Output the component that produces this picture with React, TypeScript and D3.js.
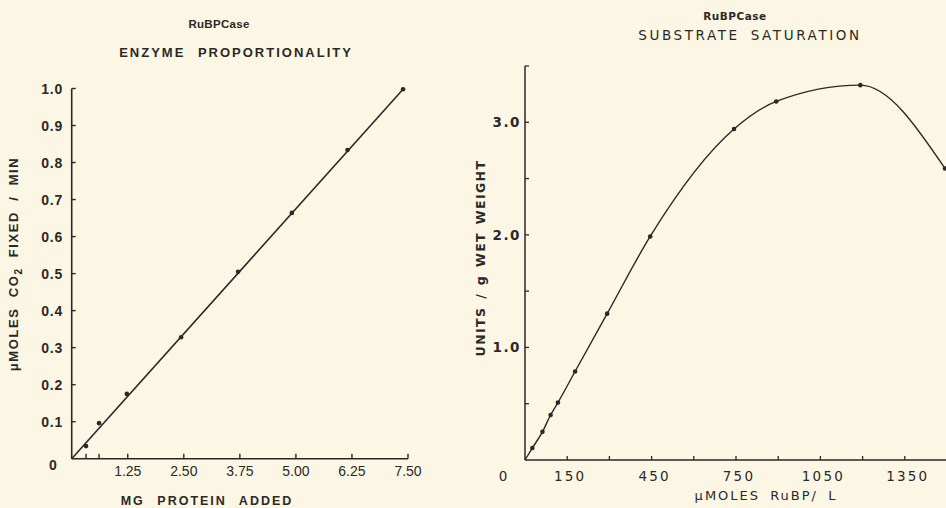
import React from "react";
import * as d3 from "d3";

// Left panel: enzyme proportionality
const proteinMg = [0.32, 0.61, 1.23, 2.44, 3.71, 4.91, 6.15, 7.39];
const co2Fixed = [0.034, 0.096, 0.175, 0.328, 0.505, 0.664, 0.834, 0.998];
const fitX = [0, 7.39];
const fitY = [0, 0.998];
const leftXTicks = [0.32, 0.61, 1.25, 2.5, 3.75, 5, 6.25, 7.5];
const leftXLabels = ["1.25", "2.50", "3.75", "5.00", "6.25", "7.50"];
const leftXLabelVals = [1.25, 2.5, 3.75, 5, 6.25, 7.5];
const leftYTicks = [0.1, 0.2, 0.3, 0.4, 0.5, 0.6, 0.7, 0.8, 0.9, 1.0];

// Right panel: substrate saturation
const rubp = [26, 62, 91, 117, 178, 292, 445, 743, 893, 1192, 1493];
const units = [0.106, 0.25, 0.4, 0.51, 0.786, 1.3, 1.986, 2.94, 3.185, 3.33, 2.59];
const rightXTicks = [150, 300, 450, 600, 750, 900, 1050, 1200, 1350, 1500];
const rightXLabelVals = [150, 450, 750, 1050, 1350];
const rightYTicks = [0.5, 1.0, 1.5, 2.0, 2.5, 3.0, 3.5];
const rightYLabelVals = [1.0, 2.0, 3.0];

const BG = "#fcf7e5";
const INK = "#2b2926";

export default function App() {
  const lx = d3.scaleLinear().domain([0, 7.5]).range([71.7, 408]);
  const ly = d3.scaleLinear().domain([0, 1]).range([458.7, 88.5]);
  const rx = d3.scaleLinear().domain([0, 1500]).range([525, 947]);
  const ry = d3.scaleLinear().domain([0, 3.5]).range([460, 66]);

  const fitLine = d3
    .line<number>()
    .x((_, i) => lx(fitX[i]))
    .y((_, i) => ly(fitY[i]))(fitX);

  const curvePts: [number, number][] = [[0, 0], ...rubp.map((v, i) => [v, units[i]] as [number, number])];
  const satCurve = d3
    .line<[number, number]>()
    .x((d) => rx(d[0]))
    .y((d) => ry(d[1]))
    .curve(d3.curveMonotoneX)(curvePts);

  const boldFont = "'Liberation Sans', Arial, sans-serif";
  const lightFont = "'DejaVu Sans', 'Liberation Sans', sans-serif";

  return (
    <svg
      width={946}
      height={508}
      style={{ position: "fixed", left: 0, top: 0, background: BG }}
    >
      <rect x={0} y={0} width={946} height={508} fill={BG} />
      {/* LEFT PANEL */}
      <g fill={INK} fontFamily={boldFont} fontWeight="bold">
        <text x={219} y={27.5} fontSize={11.5} textAnchor="middle" fontWeight="bold" letterSpacing={0.3}>RuBPCase</text>
        <text x={236} y={56.5} fontSize={13} textAnchor="middle" letterSpacing={2} style={{ wordSpacing: "7px" }}>
          ENZYME PROPORTIONALITY
        </text>
        {/* axes */}
        <line x1={lx(0)} y1={ly(0)} x2={lx(0)} y2={ly(1)} stroke={INK} strokeWidth={1.6} />
        <line x1={lx(0)} y1={ly(0)} x2={lx(7.5)} y2={ly(0)} stroke={INK} strokeWidth={1.6} />
        {leftYTicks.map((t) => (
          <line key={"lyt" + t} x1={lx(0)} x2={lx(0) + 4} y1={ly(t)} y2={ly(t)} stroke={INK} strokeWidth={1.4} />
        ))}
        {leftYTicks.map((t) => (
          <text key={"lyl" + t} x={63} y={ly(t) + 5} fontSize={14} textAnchor="end" letterSpacing={0.8}>
            {t.toFixed(1)}
          </text>
        ))}
        <text x={53} y={470} fontSize={14} textAnchor="middle">0</text>
        {leftXTicks.map((t) => (
          <line key={"lxt" + t} x1={lx(t)} x2={lx(t)} y1={ly(0)} y2={ly(0) - 5} stroke={INK} strokeWidth={1.4} />
        ))}
        {leftXLabelVals.map((t, i) => (
          <text key={"lxl" + t} x={lx(t)} y={476} fontSize={14} textAnchor="middle" fontWeight="normal" letterSpacing={0}>
            {leftXLabels[i]}
          </text>
        ))}
        <text x={207} y={505} fontSize={12.5} textAnchor="middle" letterSpacing={2} style={{ wordSpacing: "7px" }}>
          MG PROTEIN ADDED
        </text>
        <text
          transform={`translate(18, 264) rotate(-90)`}
          fontSize={13}
          textAnchor="middle"
          letterSpacing={1.6}
          style={{ wordSpacing: "5px" }}
        >
          μMOLES CO<tspan fontSize={10} dy={4}>2</tspan><tspan dy={-4}> FIXED / MIN</tspan>
        </text>
        {/* data */}
        <path d={fitLine ?? ""} fill="none" stroke={INK} strokeWidth={1.6} />
        {proteinMg.map((v, i) => (
          <circle key={"lp" + i} cx={lx(v)} cy={ly(co2Fixed[i])} r={2.3} fill={INK} />
        ))}
      </g>

      {/* RIGHT PANEL */}
      <g fill={INK} fontFamily={lightFont}>
        <text x={735} y={19.5} fontSize={10.5} textAnchor="middle" fontWeight="bold" letterSpacing={0.5}>RuBPCase</text>
        <text x={750} y={39.5} fontSize={13.5} textAnchor="middle" letterSpacing={2.6} style={{ wordSpacing: "4px" }}>
          SUBSTRATE SATURATION
        </text>
        <line x1={rx(0)} y1={ry(0)} x2={rx(0)} y2={ry(3.5)} stroke={INK} strokeWidth={1.5} />
        <line x1={rx(0)} y1={ry(0)} x2={rx(1500)} y2={ry(0)} stroke={INK} strokeWidth={1.5} />
        {rightYTicks.map((t) => (
          <line key={"ryt" + t} x1={rx(0)} x2={rx(0) + 4} y1={ry(t)} y2={ry(t)} stroke={INK} strokeWidth={1.3} />
        ))}
        {rightYLabelVals.map((t) => (
          <text key={"ryl" + t} x={521} y={ry(t) + 5} fontSize={13.5} textAnchor="end" letterSpacing={1.5} fontWeight="bold">
            {t.toFixed(1)}
          </text>
        ))}
        <text x={503} y={481} fontSize={13.5} textAnchor="middle">0</text>
        {rightXTicks.map((t) => (
          <line key={"rxt" + t} x1={rx(t)} x2={rx(t)} y1={ry(0)} y2={ry(0) - 4} stroke={INK} strokeWidth={1.3} />
        ))}
        {rightXLabelVals.map((t) => (
          <text key={"rxl" + t} x={rx(t) + 3} y={481} fontSize={13.5} textAnchor="middle" letterSpacing={2.2}>
            {t}
          </text>
        ))}
        <text x={766} y={499.5} fontSize={13} textAnchor="middle" letterSpacing={2} style={{ wordSpacing: "4px" }}>
          μMOLES RuBP/ L
        </text>
        <text
          transform={`translate(485, 258) rotate(-90)`}
          fontSize={12.5}
          textAnchor="middle"
          letterSpacing={1.4}
          fontWeight="bold"
          style={{ wordSpacing: "2px" }}
        >
          UNITS / g WET WEIGHT
        </text>
        <path d={satCurve ?? ""} fill="none" stroke={INK} strokeWidth={1.4} />
        {rubp.map((v, i) => (
          <circle key={"rp" + i} cx={rx(v)} cy={ry(units[i])} r={2.3} fill={INK} />
        ))}
      </g>
    </svg>
  );
}
